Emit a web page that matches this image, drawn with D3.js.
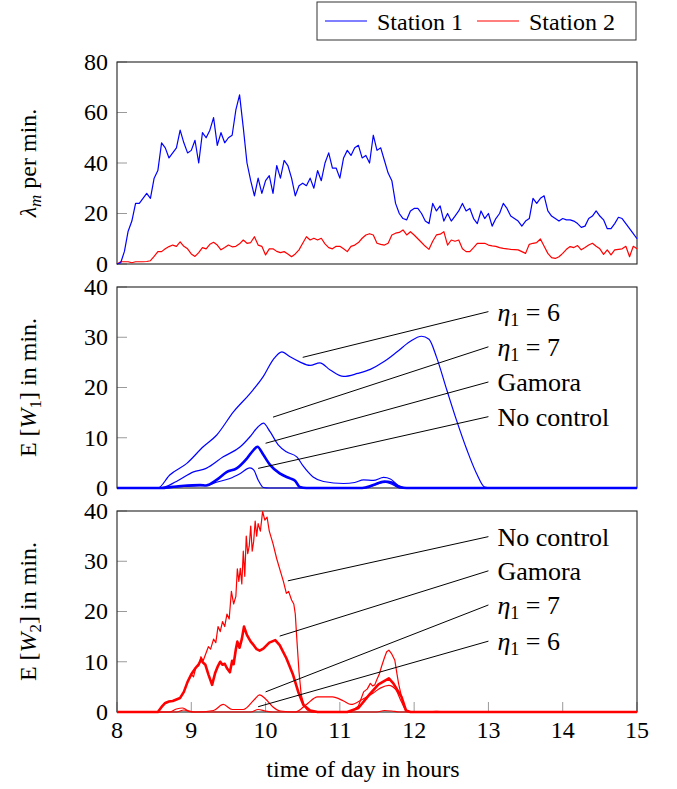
<!DOCTYPE html>
<html>
<head>
<meta charset="utf-8">
<script src="https://cdn.jsdelivr.net/npm/d3@7"></script>
<style>
  body { margin: 0; background: #fff; }
  #chart text, #chart tspan { font-family: "Liberation Serif" !important; }
</style>
</head>
<body>
<svg id="chart" width="677" height="789"></svg>
<script>
// arrival rates per minute, one value every 0.05 h from 8:00 to 15:00
const station1 = [
  0,0.5,5,13,17,24,24,26,28,26,34,37,48,46,42,44,46,53,48,44,
  45,49,40,52,50,53,58,47,52,48,50,51,61,67,54,40,33,27,34,28,
  33,35,28,39,34,41,39,34,27,31,32,31,34,30,37,33,40,44,38,38,
  34,42,45,43,46,47,42,43,40,51,45,46,41,36,33,24,20,18,17.5,21,
  22,22,20,17,16,24,21,23,17,20,17,19,21,24,21,22,18,16,21,18,
  20,15,18,20,24,22,19,18,17,15,17,18,26,24,26,27,21,19,18,17,
  18,17.5,17.5,17,16,14.5,15,18,19,21,19,17.5,14,14,16,18.5,18,16,14,12,
  10];
const station2 = [
  0,0.9,0.9,0.9,0.5,0.9,0.9,0.9,1,1.3,3,4.9,4.9,6,6.9,7.5,7,8.8,7,6,
  4,3,4.5,6.5,6,7.8,8.6,7.5,5.6,6.5,7.5,6.8,7,8,9.5,8.2,8.5,10.8,7.5,7,
  3.6,6,6,5,4.5,4.9,4,2.9,4,5.6,8.2,10.8,9.5,10.2,9.5,10.2,8,6.5,6,7,
  7,6,4.9,7,7.5,8.5,10.2,11.5,12,11.5,8.2,7.8,7.5,8.2,11.5,12.2,12.5,13.5,11.5,12.8,
  11.5,10,8.5,7,5.8,9,11.5,11.8,12.8,7.5,9.5,9,9.5,6,4.9,4.9,6.5,8.2,8.2,8.2,
  7.5,7.2,7,6.5,6.2,6,5.8,5.7,5.6,4.9,4.2,7.8,8.2,8.5,9.9,7,4.2,2.5,2.2,2.9,
  4.2,5.8,6.9,6.5,7.3,5.6,6.5,7.5,8.2,7,6,3.8,5.6,3.6,5.6,5.8,6,7,2.9,7,
  6];
const rateHours = station1.map((d, i) => 8 + i * 0.05);

// expected waiting time at station 1, [hour, minutes]
const w1Eta6 = [[8,0],[8.55,0],[8.71,2.6],[8.94,4.9],[9.16,8.2],[9.34,10.5],[9.57,15.2],[9.79,18.8],[9.97,22.2],[10.1,25.5],[10.22,27.1],[10.33,26.1],[10.46,25.1],[10.6,24.4],[10.73,24.9],[10.87,23.5],[11.05,22.2],[11.24,22.8],[11.41,23.6],[11.59,25.1],[11.77,27.1],[11.94,29.1],[12.1,30.2],[12.2,29.6],[12.3,26.1],[12.44,19.5],[12.57,13.5],[12.71,7.6],[12.84,2.9],[12.95,0.2],[13.05,0],[15,0]];
const w1Eta7 = [[8,0],[8.58,0],[8.8,1.3],[9.03,3.2],[9.2,3.9],[9.43,6.2],[9.66,8.2],[9.79,10.2],[9.9,12.2],[9.97,12.9],[10.06,11.2],[10.17,8.6],[10.28,7.2],[10.42,6.2],[10.5,4.5],[10.64,2.2],[10.78,1.3],[11.05,0.9],[11.2,1.1],[11.32,1.6],[11.45,1.5],[11.59,2.1],[11.68,1.8],[11.79,0.5],[11.9,0],[15,0]];
const w1Gamora = [[8,0],[8.58,0],[8.8,0.3],[9.12,0.6],[9.2,0.5],[9.34,1.6],[9.48,3.2],[9.61,3.9],[9.75,5.9],[9.84,7.6],[9.89,8.2],[9.97,6.6],[10.06,4.6],[10.19,2.9],[10.33,1.9],[10.4,1.4],[10.46,0.2],[10.55,0],[11.3,0],[11.45,0.6],[11.6,1.3],[11.7,1.1],[11.8,0.2],[11.9,0],[15,0]];
const w1NoControl = [[8,0],[8.6,0],[8.9,0.3],[9.2,0.5],[9.35,1.2],[9.52,1.9],[9.66,2.9],[9.79,4],[9.84,3.6],[9.9,1.6],[9.97,0.1],[10.05,0],[11.35,0],[11.5,0.8],[11.62,1.1],[11.72,0.6],[11.8,0],[15,0]];

// expected waiting time at station 2, [hour, minutes]
const w2NoControl = [[8,0],[8.55,0],[8.6,1],[8.65,1.8],[8.7,2.1],[8.75,2.2],[8.8,2.5],[8.85,2.8],[8.9,4],[8.95,6],[9.0,7.5],[9.03,7],[9.06,8.8],[9.1,9.2],[9.13,11],[9.16,10.2],[9.2,11.8],[9.23,13],[9.26,12.5],[9.3,14.5],[9.33,13.8],[9.36,17],[9.39,16],[9.42,18],[9.45,17],[9.48,19.5],[9.51,18.5],[9.54,24],[9.57,21.5],[9.6,23],[9.62,28.5],[9.64,26],[9.66,28.6],[9.68,25.5],[9.7,32],[9.72,27],[9.74,35],[9.76,31.5],[9.78,33],[9.8,37],[9.82,32],[9.84,34],[9.86,38],[9.88,35],[9.9,37.5],[9.93,36],[9.96,39.9],[9.99,38.2],[10.02,38.8],[10.05,36],[10.1,33.5],[10.15,30.5],[10.2,28],[10.24,26],[10.28,23.6],[10.31,24],[10.35,22.3],[10.38,21.5],[10.4,19.5],[10.42,14.7],[10.45,8],[10.48,3.4],[10.52,1.2],[10.56,0.4],[10.62,0],[11.15,0],[11.25,1.2],[11.32,4],[11.37,4.6],[11.41,5.7],[11.44,5.2],[11.47,5.4],[11.5,6.5],[11.53,7.5],[11.56,9],[11.6,10.8],[11.63,12],[11.66,12.3],[11.7,11.5],[11.74,10.3],[11.77,7.5],[11.79,5.7],[11.85,1.7],[11.9,0.2],[11.95,0],[15,0]];
const w2Gamora = [[8,0],[8.55,0],[8.6,1],[8.65,1.8],[8.7,2.1],[8.75,2.2],[8.8,2.5],[8.85,2.8],[8.9,4],[8.95,6],[9.0,7.5],[9.06,8.8],[9.1,9.5],[9.13,10.4],[9.16,9.8],[9.19,9.4],[9.23,7.5],[9.28,5.4],[9.32,7.7],[9.36,9.2],[9.39,10],[9.42,9.4],[9.45,9.6],[9.48,8.7],[9.52,7.9],[9.55,10.2],[9.57,9.5],[9.6,12.5],[9.62,14],[9.65,12.8],[9.68,14.5],[9.71,17],[9.75,15.3],[9.8,14],[9.84,13.3],[9.88,12.5],[9.92,12.2],[9.97,12.6],[10.05,13.8],[10.13,14.3],[10.19,13.3],[10.28,10.7],[10.37,7.4],[10.44,4],[10.51,1.4],[10.6,0.3],[10.7,0],[11.1,0],[11.25,0.8],[11.4,3.5],[11.52,5.5],[11.66,6.7],[11.72,5.7],[11.83,3],[11.89,0.3],[11.95,0],[15,0]];
const w2Eta7 = [[8,0],[8.7,0],[8.8,0.6],[8.88,0.8],[8.95,0.3],[9.05,0],[9.3,0.3],[9.43,1.5],[9.55,0.5],[9.7,0.5],[9.85,2.5],[9.92,3.4],[10.0,2.6],[10.1,1],[10.2,0.2],[10.4,0],[10.55,1.5],[10.7,3],[10.9,3],[11.05,2.2],[11.15,1.5],[11.3,2.5],[11.45,3.8],[11.55,4.8],[11.66,5.3],[11.75,4.5],[11.83,2],[11.9,0.2],[12,0],[15,0]];
const w2Eta6 = [[8,0],[8.8,0],[8.9,0.4],[9.0,0],[9.8,0],[9.9,0.5],[10.0,0.2],[10.1,0],[11.5,0],[11.6,0.3],[11.7,0.2],[11.8,0],[12.2,0],[12.3,0.15],[12.4,0],[15,0]];

const xTicks = [8, 9, 10, 11, 12, 13, 14, 15];
const rateTicks = [0, 20, 40, 60, 80];
const waitTicks = [0, 10, 20, 30, 40];

// label leader lines, [hour, value] from curve to text
const w1Notes = [
  {label: "6", math: true, from: [10.5, 26.0], to: [13.0, 35.1]},
  {label: "7", math: true, from: [10.1, 14.1], to: [13.0, 28.1]},
  {label: "Gamora", from: [10.0, 8.9], to: [13.0, 21.1]},
  {label: "No control", from: [9.9, 3.9], to: [13.0, 14.2]}
];
const w2Notes = [
  {label: "No control", from: [10.3, 26.1], to: [13.0, 34.9]},
  {label: "Gamora", from: [10.19, 15.1], to: [13.0, 28.1]},
  {label: "7", math: true, from: [10.0, 4.0], to: [13.0, 21.3]},
  {label: "6", math: true, from: [9.9, 1.05], to: [13.0, 14.1]}
];

const blue = "#0000ff", red = "#ff0000";
const svg = d3.select("#chart");
const left = 117, right = 637;
const x = d3.scaleLinear().domain([8, 15]).range([left, right]);

function addText(parent, size){
  return parent.append("text")
    .style("font-family", "'Liberation Serif'")
    .attr("font-size", size)
    .attr("fill", "#000");
}

const panels = [
  {top: 62, bottom: 264, max: 80, ticks: rateTicks},
  {top: 287, bottom: 488, max: 40, ticks: waitTicks},
  {top: 511, bottom: 712, max: 40, ticks: waitTicks}
];

panels.forEach(function(p, i){
  p.y = d3.scaleLinear().domain([0, p.max]).range([p.bottom, p.top]);
  let g = svg.append("g");
  // gray inner ticks
  g.selectAll(".yt").data(p.ticks).enter().append("line")
    .attr("x1", left).attr("x2", left + 10)
    .attr("y1", d => p.y(d)).attr("y2", d => p.y(d))
    .attr("stroke", "#9a9a9a").attr("stroke-width", 1);
  p.ticks.forEach(function(d){
    addText(g, 24).attr("x", left - 9).attr("y", p.y(d)).attr("dy", "0.33em")
      .attr("text-anchor", "end").text(d);
  });
  if(i == 2){
    g.selectAll(".xt").data(xTicks).enter().append("line")
      .attr("x1", d => x(d)).attr("x2", d => x(d))
      .attr("y1", p.bottom).attr("y2", p.bottom - 10)
      .attr("stroke", "#9a9a9a").attr("stroke-width", 1);
    xTicks.forEach(function(d){
      addText(g, 24).attr("x", x(d)).attr("y", p.bottom + 26)
        .attr("text-anchor", "middle").text(d);
    });
  }
  g.append("rect")
    .attr("x", left).attr("y", p.top)
    .attr("width", right - left).attr("height", p.bottom - p.top)
    .attr("fill", "none").attr("stroke", "#222").attr("stroke-width", 1.1);
});

function drawSeries(p, data, color, width, curve){
  let line = d3.line()
    .x(d => x(d[0])).y(d => p.y(d[1]))
    .curve(curve || d3.curveLinear);
  svg.append("path").datum(data)
    .attr("d", line)
    .attr("fill", "none").attr("stroke", color)
    .attr("stroke-width", width).attr("stroke-linejoin", "round");
}

// panel 1: arrival rates
drawSeries(panels[0], rateHours.map((t, i) => [t, station2[i]]), red, 1.2);
drawSeries(panels[0], rateHours.map((t, i) => [t, station1[i]]), blue, 1.2);

// panel 2: waiting time at station 1
drawSeries(panels[1], w1Eta6, blue, 1.2, d3.curveMonotoneX);
drawSeries(panels[1], w1Eta7, blue, 1.2, d3.curveMonotoneX);
drawSeries(panels[1], w1NoControl, blue, 1.2, d3.curveMonotoneX);
drawSeries(panels[1], w1Gamora, blue, 2.6, d3.curveMonotoneX);

// panel 3: waiting time at station 2
drawSeries(panels[2], w2Eta6, red, 1.2, d3.curveMonotoneX);
drawSeries(panels[2], w2Eta7, red, 1.2, d3.curveMonotoneX);
drawSeries(panels[2], w2NoControl, red, 1.2);
drawSeries(panels[2], w2Gamora, red, 2.6);

// annotations
function drawNotes(p, notes){
  notes.forEach(function(n){
    let x1 = x(n.from[0]), y1 = p.y(n.from[1]);
    let x2 = x(n.to[0]), y2 = p.y(n.to[1]);
    svg.append("line")
      .attr("x1", x1).attr("y1", y1).attr("x2", x2).attr("y2", y2)
      .attr("stroke", "#000").attr("stroke-width", 1);
    let t = addText(svg, 26).attr("x", x2 + 9).attr("y", y2 + 9);
    if(n.math){
      t.append("tspan").attr("font-style", "italic").text("η");
      t.append("tspan").attr("font-size", 18).attr("dy", 5).text("1");
      t.append("tspan").attr("dy", -5).text(" = " + n.label);
    } else {
      t.text(n.label);
    }
  });
}
drawNotes(panels[1], w1Notes);
drawNotes(panels[2], w2Notes);

// axis titles
let yl1 = addText(svg, 24).attr("transform", "translate(36,163) rotate(-90)")
  .attr("text-anchor", "middle");
yl1.append("tspan").attr("font-style", "italic").text("λ");
yl1.append("tspan").attr("font-style", "italic").attr("font-size", 17).attr("dy", 5).text("m");
yl1.append("tspan").attr("dy", -5).text(" per min.");

[[387.5, "1"], [611.5, "2"]].forEach(function(d){
  let t = addText(svg, 24).attr("transform", "translate(36," + d[0] + ") rotate(-90)")
    .attr("text-anchor", "middle");
  t.append("tspan").text("E [");
  t.append("tspan").attr("font-style", "italic").text("W");
  t.append("tspan").attr("font-size", 17).attr("dy", 5).text(d[1]);
  t.append("tspan").attr("dy", -5).text("] in min.");
});

addText(svg, 24).attr("x", 363).attr("y", 777)
  .attr("text-anchor", "middle")
  .text("time of day in hours");

// legend
let lg = svg.append("g");
lg.append("rect").attr("x", 317).attr("y", 2).attr("width", 319).attr("height", 38)
  .attr("fill", "#fff").attr("stroke", "#333").attr("stroke-width", 1);
[["Station 1", blue, 325], ["Station 2", red, 477]].forEach(function(d){
  lg.append("line").attr("x1", d[2]).attr("x2", d[2] + 42)
    .attr("y1", 21).attr("y2", 21)
    .attr("stroke", d[1]).attr("stroke-width", 1.2);
  addText(lg, 24).attr("x", d[2] + 52).attr("y", 29.5).text(d[0]);
});
</script>
</body>
</html>
